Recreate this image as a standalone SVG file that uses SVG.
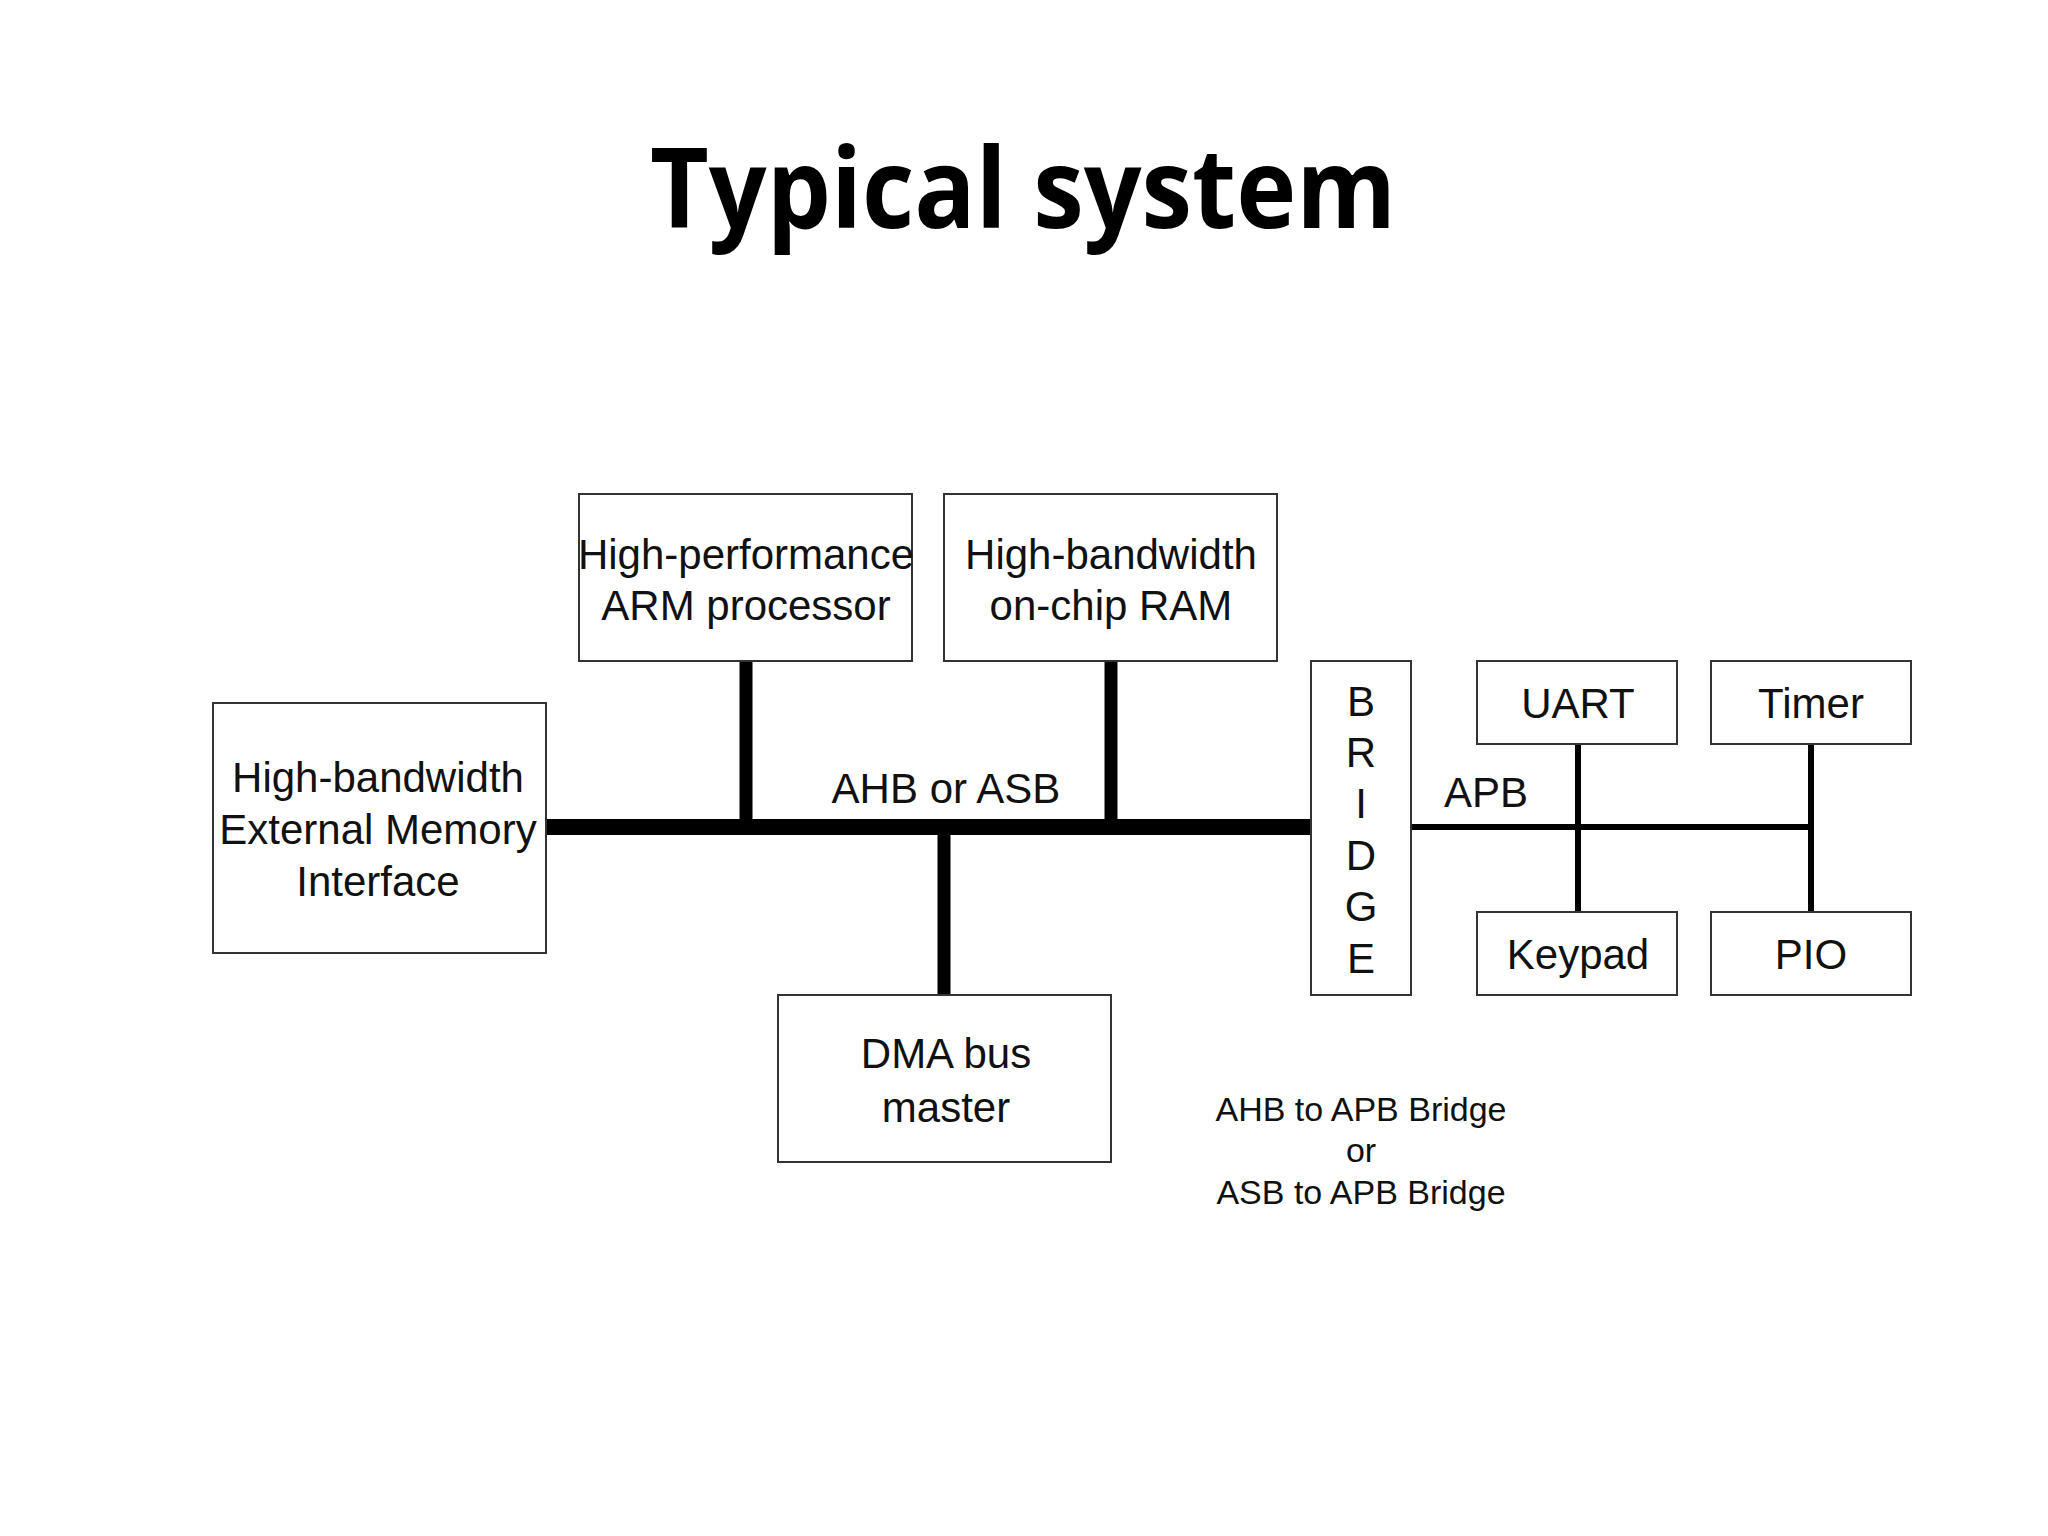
<svg xmlns="http://www.w3.org/2000/svg" width="2048" height="1536" viewBox="0 0 2048 1536">
<style>
.box{fill:#fff;stroke:#333;stroke-width:2}
.t{font-family:"Liberation Sans Narrow","Liberation Sans",Arial,sans-serif;font-size:42px;fill:#111;text-anchor:middle}
.s{font-size:34px}
.bus{stroke:#000;fill:none}
</style>
<rect width="2048" height="1536" fill="#fff"/>
<text x="1023" y="228" font-family="Open Sans,Liberation Sans,sans-serif" font-weight="bold" font-size="112" text-anchor="middle" textLength="746" lengthAdjust="spacingAndGlyphs">Typical system</text>
<g id="connectors">
<line class="bus" x1="546" y1="827" x2="1311" y2="827" stroke-width="16"/>
<line class="bus" x1="746" y1="661" x2="746" y2="827" stroke-width="13"/>
<line class="bus" x1="1111" y1="661" x2="1111" y2="827" stroke-width="13"/>
<line class="bus" x1="944" y1="827" x2="944" y2="995" stroke-width="13"/>
<line class="bus" x1="1411" y1="827" x2="1811" y2="827" stroke-width="6"/>
<line class="bus" x1="1578" y1="744" x2="1578" y2="912" stroke-width="6"/>
<line class="bus" x1="1811" y1="744" x2="1811" y2="912" stroke-width="6"/>
<text class="t" x="946" y="803">AHB or ASB</text>
<text class="t" x="1486" y="807">APB</text>
</g>
<g id="arm"><rect class="box" x="579" y="494" width="333" height="167"/><text class="t" x="746" y="569">High-performance</text><text class="t" x="746" y="620">ARM processor</text></g>
<g id="ram"><rect class="box" x="944" y="494" width="333" height="167"/><text class="t" x="1111" y="569">High-bandwidth</text><text class="t" x="1111" y="620">on-chip RAM</text></g>
<g id="extmem"><rect class="box" x="213" y="703" width="333" height="250"/><text class="t" x="378" y="792">High-bandwidth</text><text class="t" x="378" y="844">External Memory</text><text class="t" x="378" y="896">Interface</text></g>
<g id="dma"><rect class="box" x="778" y="995" width="333" height="167"/><text class="t" x="946" y="1068">DMA bus</text><text class="t" x="946" y="1122">master</text></g>
<g id="bridge"><rect class="box" x="1311" y="661" width="100" height="334"/>
<text class="t" x="1361" y="716">B</text><text class="t" x="1361" y="767">R</text><text class="t" x="1361" y="818">I</text><text class="t" x="1361" y="870">D</text><text class="t" x="1361" y="921">G</text><text class="t" x="1361" y="973">E</text></g>
<g id="uart"><rect class="box" x="1477" y="661" width="200" height="83"/><text class="t" x="1578" y="718">UART</text></g>
<g id="timer"><rect class="box" x="1711" y="661" width="200" height="83"/><text class="t" x="1811" y="718">Timer</text></g>
<g id="keypad"><rect class="box" x="1477" y="912" width="200" height="83"/><text class="t" x="1578" y="969">Keypad</text></g>
<g id="pio"><rect class="box" x="1711" y="912" width="200" height="83"/><text class="t" x="1811" y="969">PIO</text></g>
<g id="note"><text class="t s" x="1361" y="1121">AHB to APB Bridge</text><text class="t s" x="1361" y="1162">or</text><text class="t s" x="1361" y="1204">ASB to APB Bridge</text></g>
</svg>
